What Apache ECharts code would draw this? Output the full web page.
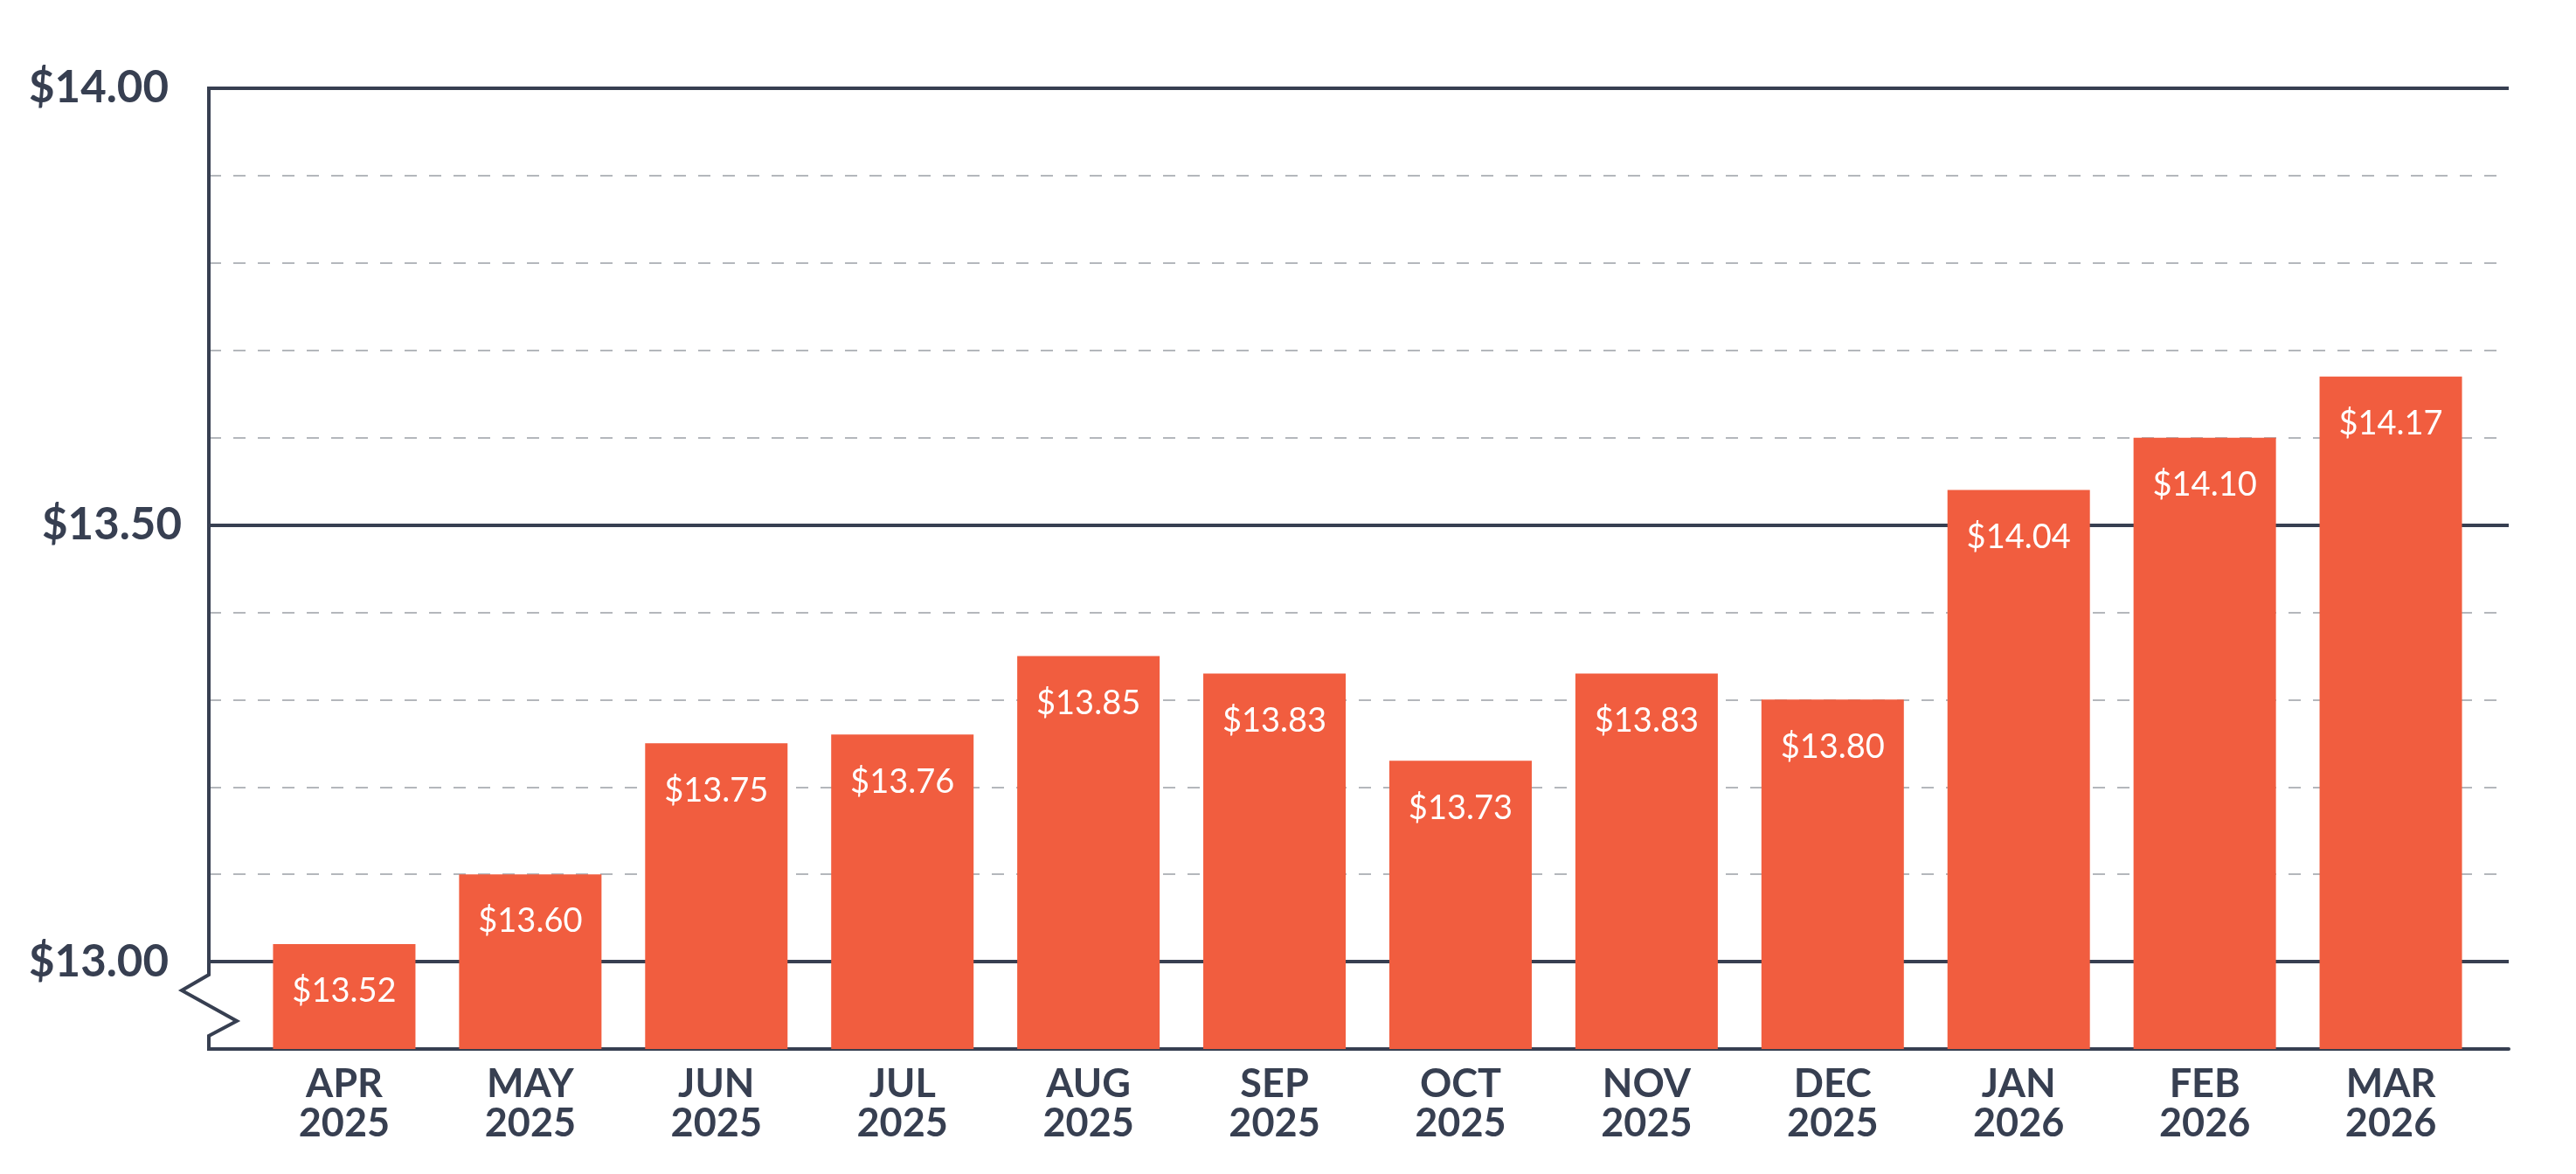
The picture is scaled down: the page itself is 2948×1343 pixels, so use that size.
<!DOCTYPE html>
<html>
<head>
<meta charset="utf-8">
<script src="https://cdn.jsdelivr.net/npm/echarts@6.0.0/dist/echarts.min.js"></script>
<style>
html,body{margin:0;padding:0;background:#ffffff;}
#chart{width:2948px;height:1343px;}
</style>
</head>
<body>
<div id="chart"></div>
<script>
// ---- data ----
const categories = ['APR\n2025','MAY\n2025','JUN\n2025','JUL\n2025','AUG\n2025','SEP\n2025','OCT\n2025','NOV\n2025','DEC\n2025','JAN\n2026','FEB\n2026','MAR\n2026'];
const wageValues = [13.52, 13.60, 13.75, 13.76, 13.85, 13.83, 13.73, 13.83, 13.80, 14.04, 14.10, 14.17];
const yTickValues = [13.5, 14.0, 14.5];
const yTickLabels = ['$13.00', '$13.50', '$14.00'];

// ---- styles ----
const DARK = '#373f51';
const BAR = '#F15D3F';
const GRIDDASH = '#b4b7bc';

const chart = echarts.init(document.getElementById('chart'), null, {renderer: 'canvas'});

function tickLabel(v) {
  for (let i = 0; i < yTickValues.length; i++) {
    if (Math.abs(v - yTickValues[i]) < 1e-6) {
      return (i === 1 ? '{m|' : '{n|') + yTickLabels[i] + '}';
    }
  }
  return '';
}

const option = {
  animation: false,
  backgroundColor: '#ffffff',
  grid: [
    {left: 239, right: 77, top: 101, bottom: 143},
    {left: 287.5, right: 105.5, top: 101, bottom: 143}
  ],
  xAxis: [
    {
      gridIndex: 0, type: 'value', min: 0, max: 1, z: 5,
      axisLine: {show: true, onZero: false, lineStyle: {color: DARK, width: 4}},
      axisTick: {show: false}, axisLabel: {show: false}, splitLine: {show: false}
    },
    {
      gridIndex: 1, type: 'category', data: categories,
      axisLine: {show: false}, axisTick: {show: false},
      axisLabel: {
        interval: 0, color: DARK, fontFamily: 'Lato', fontWeight: 700,
        fontSize: 45, lineHeight: 45, margin: 18
      }
    }
  ],
  yAxis: [
    {
      gridIndex: 0, type: 'value', min: 13.4, max: 14.5, interval: 0.1,
      axisLine: {show: false}, axisTick: {show: false},
      splitLine: {show: true, lineStyle: {color: GRIDDASH, width: 2, type: [14, 14]}},
      axisLabel: {
        formatter: tickLabel, margin: 31,
        rich: {
          n: {color: DARK, fontFamily: 'Lato', fontWeight: 700, fontSize: 51, padding: [0, 15, 0, 0]},
          m: {color: DARK, fontFamily: 'Lato', fontWeight: 700, fontSize: 51}
        }
      }
    },
    {
      gridIndex: 1, type: 'value', min: 13.4, max: 14.5, show: false
    }
  ],
  series: [
    {
      type: 'line', xAxisIndex: 0, yAxisIndex: 0, data: [], z: 1,
      markLine: {
        silent: true, symbol: 'none', animation: false, z: 1,
        label: {show: false},
        lineStyle: {color: DARK, width: 4, type: 'solid'},
        data: yTickValues.map(v => ({yAxis: v}))
      }
    },
    {
      type: 'bar', xAxisIndex: 1, yAxisIndex: 1, data: wageValues, barWidth: 163, z: 8,
      itemStyle: {color: BAR},
      label: {
        show: true, position: 'insideTop', distance: 35,
        color: '#ffffff', fontFamily: 'Lato', fontWeight: 400, fontSize: 38,
        formatter: p => '$' + p.value.toFixed(2)
      }
    }
  ]
};

chart.setOption(option);

// axis line with break mark, placed through the axis scale
(function () {
  function px(y) { return chart.convertToPixel({xAxisIndex: 0, yAxisIndex: 0}, [0, y]); }
  const pTop = px(14.5), pBs = px(13.485), pZ1 = px(13.467), pZ2 = px(13.432), pZ3 = px(13.415), pBot = px(13.4);
  const x0 = pTop[0];
  chart.setOption({
    graphic: [{
      type: 'polyline', z: 10,
      shape: {points: [[x0, pTop[1] - 2], [x0, pBs[1]], [x0 - 31, pZ1[1]], [x0 + 32, pZ2[1]], [x0, pZ3[1]], [x0, pBot[1] + 2]]},
      style: {stroke: DARK, lineWidth: 4, fill: null, lineJoin: 'miter'}
    }]
  });
})();
</script>
</body>
</html>
